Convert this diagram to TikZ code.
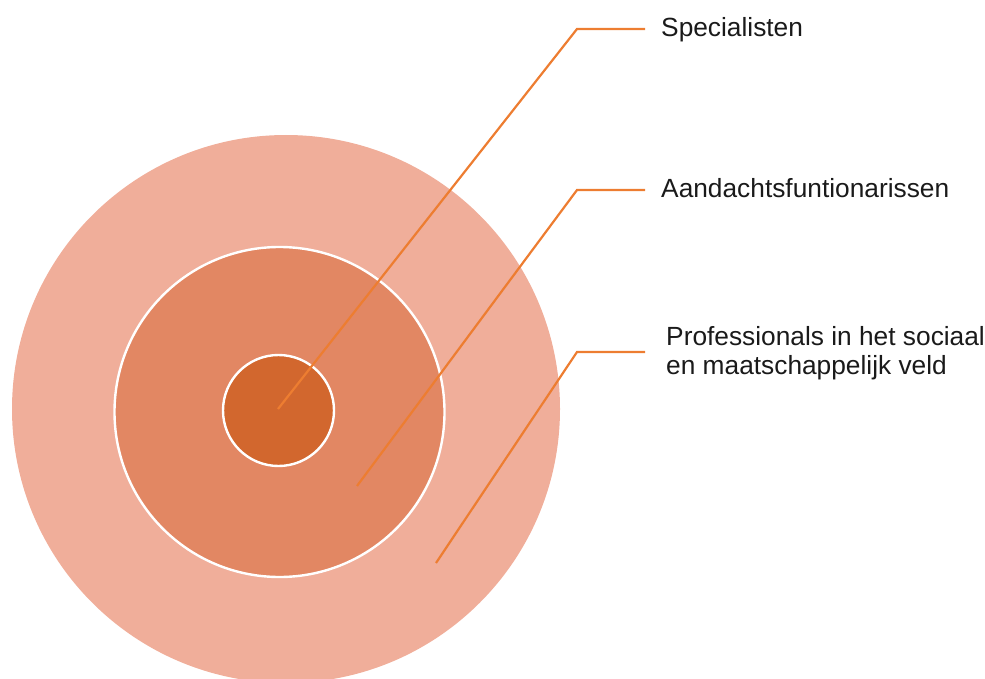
\documentclass[tikz,border=0pt]{standalone}
\usepackage{fontspec}
\setmainfont{Liberation Sans}
\definecolor{outerc}{HTML}{F0AE9A}
\definecolor{midc}{HTML}{E28763}
\definecolor{innerc}{HTML}{D2672E}
\definecolor{linec}{HTML}{ED7D31}
\definecolor{textc}{HTML}{1A1A1A}
\begin{document}
\begin{tikzpicture}[x=1pt,y=-1pt,
  ring/.style={circle, draw=white, line width=2.4pt, inner sep=0pt},
  leader/.style={draw=linec, line width=2.2pt},
  lbl/.style={font=\fontsize{26.3}{28}\selectfont, text=textc, anchor=base west, inner sep=0pt}]
\useasboundingbox (0,0) rectangle (985,679);
\node[ring, fill=outerc, draw=none, minimum size=548] (outer) at (286,409) {};
\node[ring, fill=midc, minimum size=330] (mid) at (279.5,412) {};
\node[ring, fill=innerc, minimum size=111] (inner) at (278.5,410.5) {};
\coordinate (s1) at (278,409);
\coordinate (k1) at (577,29);
\coordinate (e1) at (645,29);
\coordinate (s2) at (357,486);
\coordinate (k2) at (577,190);
\coordinate (e2) at (645,190);
\coordinate (s3) at (436,563);
\coordinate (k3) at (577,352);
\coordinate (e3) at (645,352);
\draw[leader] (s1) -- (k1) -- (e1);
\draw[leader] (s2) -- (k2) -- (e2);
\draw[leader] (s3) -- (k3) -- (e3);
\node[lbl] (t1) at (661,37) {Specialisten};
\node[lbl] (t2) at (661,198) {Aandachtsfuntionarissen};
\node[lbl] (t3a) at (666,345) {Professionals in het sociaal};
\node[lbl] (t3b) at (666,374) {en maatschappelijk veld};
\end{tikzpicture}
\end{document}
